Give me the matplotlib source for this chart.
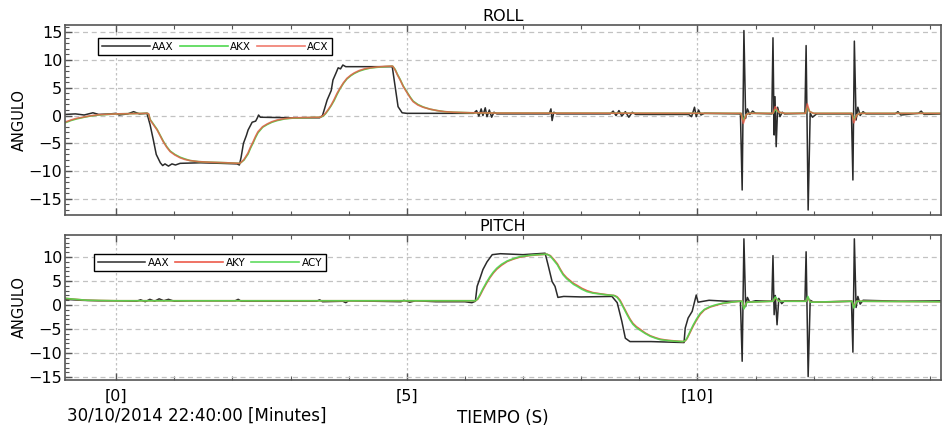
import matplotlib
matplotlib.use("Agg")
import matplotlib.pyplot as plt
from matplotlib.ticker import MultipleLocator, FuncFormatter

# ---------------------------
# ROLL data (time in seconds)
# ---------------------------

roll_aax_t = [-0.88, -0.70, -0.55, -0.40, -0.30, -0.10, 0.00, 0.05, 0.20, 0.30, 0.40, 0.53,
              0.585, 0.64, 0.69, 0.76, 0.80, 0.84, 0.90, 0.96, 1.02, 1.10, 1.45, 1.80, 2.08,
              2.12, 2.15, 2.19, 2.24, 2.27, 2.34, 2.40, 2.43, 2.45, 2.48, 3.00, 3.50,
              3.55, 3.63, 3.70, 3.73, 3.78, 3.82, 3.86, 3.90, 3.95, 4.30, 4.75,
              4.80, 4.85, 4.92, 5.00, 6.15,
              6.20, 6.24, 6.28, 6.31, 6.35, 6.38, 6.42, 6.46, 6.50, 6.55,
              7.45, 7.48, 7.50, 7.53, 7.58,
              8.50, 8.55, 8.60, 8.65, 8.70, 8.76, 8.82, 8.88, 8.94,
              9.85, 9.90, 9.95, 9.98, 10.02, 10.06, 10.12,
              10.74, 10.77, 10.80, 10.83, 10.86, 10.90, 10.95, 11.00,
              11.28, 11.30, 11.32, 11.335, 11.355, 11.38, 11.42, 11.46, 11.50,
              11.85, 11.87, 11.905, 11.94, 11.98, 12.05,
              12.65, 12.675, 12.70, 12.73, 12.76, 12.80, 12.85, 12.90,
              13.40, 13.45, 13.50, 13.80, 13.85, 13.90, 14.20]
roll_aax = [0.2, 0.3, 0.1, 0.5, 0.2, 0.3, 0.4, 0.1, 0.3, 0.7, 0.3, 0.4,
            -1.7, -4.4, -7.0, -8.5, -9.0, -8.7, -9.1, -8.7, -8.9, -8.6, -8.5, -8.6, -8.7,
            -8.9, -7.5, -5.0, -3.6, -2.6, -1.2, -1.0, -0.4, 0.1, -0.3, -0.4, -0.4,
            0.0, 2.8, 4.5, 6.4, 7.6, 8.6, 8.4, 9.1, 8.8, 8.8, 8.8,
            5.2, 1.6, 0.5, 0.4, 0.4,
            0.9, -0.1, 1.2, 0.0, 1.4, -0.2, 1.0, -0.3, 0.6, 0.3,
            0.3, 1.2, -0.9, 0.6, 0.3,
            0.3, 0.8, 0.0, 0.9, -0.1, 0.7, -0.3, 0.6, 0.2,
            0.2, -0.2, 1.5, -0.2, 1.0, 0.1, 0.4,
            0.3, -13.4, 15.3, -0.5, 1.2, 0.2, 0.8, 0.4,
            0.3, 14.0, -3.5, 3.4, -5.6, 1.5, -0.2, 0.6, 0.3,
            0.4, 12.6, -17.0, 0.4, -0.3, 0.3,
            0.3, -11.6, 13.4, -0.8, 1.5, 0.0, 0.7, 0.3,
            0.3, 0.7, 0.1, 0.4, 0.8, 0.2, 0.3]

roll_filt_t = [-0.88, -0.78, -0.68, -0.55, -0.45, -0.30, 0.00, 0.54,
               0.56, 0.585, 0.645, 0.705, 0.76, 0.81, 0.87, 0.93, 1.01, 1.10, 1.18, 1.27,
               1.42, 1.62, 1.90, 2.13,
               2.20, 2.27, 2.31, 2.357, 2.40, 2.44, 2.52, 2.60, 2.68, 2.77, 2.90, 3.05, 3.51,
               3.56, 3.60, 3.65, 3.70, 3.75, 3.80, 3.85, 3.91, 3.97, 4.04, 4.10, 4.18,
               4.27, 4.37, 4.50, 4.62, 4.75,
               4.76, 4.80, 4.84, 4.886, 4.94, 5.006, 5.06, 5.109, 5.19, 5.28, 5.40, 5.52,
               5.65, 5.80, 6.10, 6.50,
               10.75, 10.79, 10.84, 10.90, 11.30, 11.34, 11.40, 11.50,
               11.86, 11.89, 11.93, 12.00, 12.66, 12.69, 12.74, 12.80, 14.20]
roll_akx = [-1.3, -0.9, -0.6, -0.3, -0.1, 0.1, 0.3, 0.4,
            0.2, -0.7, -1.6, -2.5, -3.6, -4.6, -5.6, -6.4, -7.0, -7.5, -7.8, -8.1,
            -8.3, -8.4, -8.5, -8.6,
            -8.0, -6.9, -5.9, -4.9, -3.9, -3.1, -2.1, -1.6, -1.2, -0.9, -0.6, -0.45, -0.3,
            -0.1, 0.3, 1.0, 1.8, 2.7, 3.8, 4.8, 5.8, 6.6, 7.2, 7.6, 8.0,
            8.3, 8.55, 8.7, 8.8, 8.9,
            8.85, 8.3, 7.4, 6.5, 5.3, 4.2, 3.3, 2.6, 2.0, 1.55, 1.15, 0.9,
            0.7, 0.6, 0.5, 0.45,
            0.4, -0.9, 0.2, 0.4, 0.4, 1.1, 0.6, 0.4,
            0.4, 1.6, 0.7, 0.4, 0.4, -0.8, 0.1, 0.4, 0.4]
roll_acx = [-1.2, -0.8, -0.5, -0.25, -0.05, 0.15, 0.3, 0.4,
            0.3, -0.8, -1.7, -2.6, -3.7, -4.7, -5.7, -6.5, -7.1, -7.6, -7.9, -8.1,
            -8.3, -8.4, -8.5, -8.6,
            -7.9, -6.7, -5.7, -4.7, -3.7, -2.9, -2.0, -1.5, -1.1, -0.8, -0.55, -0.4, -0.3,
            0.0, 0.4, 1.1, 1.9, 2.9, 4.0, 4.9, 5.9, 6.7, 7.3, 7.7, 8.1,
            8.4, 8.6, 8.75, 8.85, 8.9,
            8.85, 8.2, 7.3, 6.4, 5.2, 4.1, 3.2, 2.5, 1.9, 1.5, 1.15, 0.9,
            0.7, 0.6, 0.5, 0.45,
            0.4, -1.4, 0.2, 0.4, 0.4, 1.6, 0.6, 0.4,
            0.4, 2.1, 0.7, 0.4, 0.4, -1.3, 0.1, 0.4, 0.4]

# ---------------------------
# PITCH data
# ---------------------------

pitch_aax_t = [-0.88, -0.60, -0.30, 0.00, 0.35, 0.42, 0.50, 0.58, 0.66, 0.74, 0.82, 0.90,
               1.00, 1.30, 2.05, 2.10, 2.15, 2.50, 3.45, 3.50, 3.55, 3.90, 3.95, 4.00,
               4.90, 4.95, 5.05, 5.15, 5.50, 6.00, 6.12, 6.18,
               6.21, 6.26, 6.31, 6.38, 6.47, 6.61, 7.00, 7.38,
               7.43, 7.50, 7.55, 7.60, 7.70, 8.00, 8.53, 8.62, 8.70, 8.76, 8.84, 9.20,
               9.77, 9.79, 9.84, 9.91, 9.98, 10.01, 10.20, 10.50,
               10.74, 10.77, 10.80, 10.83, 10.86, 10.90, 11.00,
               11.28, 11.30, 11.32, 11.34, 11.37, 11.40, 11.45, 11.50,
               11.85, 11.87, 11.905, 11.94, 12.00,
               12.65, 12.675, 12.70, 12.73, 12.76, 12.80, 12.85, 13.50, 14.20]
pitch_aax = [1.2, 1.0, 0.9, 0.9, 0.8, 1.1, 0.7, 1.2, 0.8, 1.3, 0.9, 1.2,
             0.8, 0.9, 0.9, 1.2, 0.8, 0.8, 0.8, 1.1, 0.7, 0.8, 0.5, 0.9,
             0.7, 1.0, 0.6, 0.9, 0.7, 0.7, 0.5, 0.8,
             3.9, 5.6, 7.4, 9.0, 10.5, 10.7, 10.5, 10.8,
             8.4, 4.9, 3.9, 1.6, 1.8, 1.7, 1.8, 0.5, -3.4, -6.9, -7.6, -7.6,
             -7.8, -4.8, -2.7, -1.3, 2.1, 0.6, 1.0, 0.8,
             0.8, -11.7, 13.8, -0.3, 1.6, 0.6, 0.9,
             0.8, 10.3, -2.0, 2.0, -4.1, 1.4, 0.3, 0.9,
             0.9, 11.1, -14.9, 1.0, 0.6,
             0.8, -9.8, 13.8, -0.5, 1.8, 0.2, 1.0, 0.8, 0.9]

pitch_filt_t = [-0.88, -0.70, -0.50, 0.00, 6.18,
                6.22, 6.26, 6.31, 6.37, 6.43, 6.49, 6.55, 6.63, 6.73, 6.84, 6.95, 7.10,
                7.24, 7.41,
                7.47, 7.53, 7.59, 7.64, 7.69, 7.75, 7.81, 7.87, 7.93, 8.01, 8.10, 8.20,
                8.33, 8.45, 8.56,
                8.58, 8.62, 8.67, 8.73, 8.79, 8.84, 8.89, 8.95, 9.01, 9.10, 9.19, 9.28,
                9.36, 9.50, 9.65, 9.75,
                9.79, 9.82, 9.87, 9.93, 9.99, 10.05, 10.12, 10.22, 10.33, 10.44, 10.58, 10.73,
                10.77, 10.80, 10.85, 11.30, 11.34, 11.40, 11.87, 11.90, 11.94,
                12.66, 12.69, 12.74, 14.20]
pitch_aky = [1.4, 1.2, 1.0, 0.9, 0.9,
             1.2, 2.0, 3.2, 4.5, 5.7, 6.7, 7.5, 8.3, 9.1, 9.6, 10.0, 10.3,
             10.45, 10.6,
             10.3, 9.5, 8.6, 7.5, 6.5, 5.7, 5.1, 4.5, 4.1, 3.5, 3.0, 2.6,
             2.35, 2.15, 2.0,
             1.95, 1.7, 1.0, -0.4, -1.8, -2.9, -3.8, -4.5, -5.0, -5.8, -6.4, -6.8,
             -7.1, -7.35, -7.5, -7.6,
             -7.45, -7.0, -5.8, -4.3, -3.0, -1.9, -1.0, -0.4, 0.0, 0.35, 0.6, 0.8,
             0.8, -0.6, 0.6, 0.8, 1.5, 0.8, 0.8, 1.6, 0.6,
             0.8, -0.4, 0.8, 0.7]
pitch_acy = [1.4, 1.2, 1.0, 0.9, 0.9,
             1.3, 2.2, 3.4, 4.7, 5.9, 6.9, 7.7, 8.5, 9.2, 9.7, 10.1, 10.35,
             10.5, 10.6,
             10.2, 9.3, 8.4, 7.3, 6.3, 5.5, 4.9, 4.3, 3.9, 3.3, 2.8, 2.5,
             2.3, 2.1, 2.0,
             1.9, 1.6, 0.8, -0.6, -2.0, -3.1, -4.0, -4.7, -5.2, -5.9, -6.5, -6.9,
             -7.2, -7.4, -7.55, -7.6,
             -7.4, -6.9, -5.6, -4.1, -2.8, -1.7, -0.9, -0.3, 0.1, 0.4, 0.6, 0.8,
             0.8, -0.8, 0.6, 0.8, 1.7, 0.8, 0.8, 1.8, 0.6,
             0.8, -0.6, 0.8, 0.7]

C_AAX = "#2b2b2b"
C_GREEN = "#4fd84f"
C_RED = "#ec5a4a"


def style_axis(ax, ylim):
    ax.set_xlim(-0.88, 14.19)
    ax.set_ylim(*ylim)
    ax.xaxis.set_major_locator(MultipleLocator(5))
    ax.xaxis.set_minor_locator(MultipleLocator(1))
    ax.yaxis.set_major_locator(MultipleLocator(5))
    ax.yaxis.set_minor_locator(MultipleLocator(1))
    ax.tick_params(which="both", direction="in", top=True, colors="#555555",
                   labelcolor="black", labelsize=11.5)
    ax.tick_params(which="major", length=5, width=1)
    ax.tick_params(which="minor", length=3, width=0.8)
    ax.tick_params(axis="y", pad=2)
    ax.grid(axis="y", which="major", color="#c2c2c2", linestyle=(0, (4, 3)), linewidth=0.9)
    ax.grid(axis="x", which="major", color="#c2c2c2", linestyle=(0, (2, 2)), linewidth=0.9)
    for s in ax.spines.values():
        s.set_color("#555555")
        s.set_linewidth(1.2)
    ax.set_ylabel("ANGULO", fontsize=10.5, labelpad=1)


def add_legend(ax, anchor):
    ax.legend(loc="upper left", bbox_to_anchor=anchor, borderaxespad=0, ncol=3,
              fontsize=7.5, handlelength=4.6, handletextpad=0.2, columnspacing=0.6,
              borderpad=0.35, fancybox=False, framealpha=1, edgecolor="black")


fig = plt.figure(figsize=(9.42, 4.26), dpi=100)

ax1 = fig.add_axes([0.0690, 0.4953, 0.9299, 0.4460])
ax2 = fig.add_axes([0.0690, 0.1080, 0.9299, 0.3404])

# ROLL
ax1.plot(roll_aax_t, roll_aax, color=C_AAX, lw=1.1, label="AAX")
ax1.plot(roll_filt_t, roll_akx, color=C_GREEN, lw=1.2, label="AKX")
ax1.plot(roll_filt_t, roll_acx, color=C_RED, lw=1.2, alpha=0.8, label="ACX")
style_axis(ax1, (-17.9, 16.3))
ax1.tick_params(axis="x", labelbottom=False)
ax1.set_title("ROLL", fontsize=11.5, pad=3)
add_legend(ax1, (0.038, 0.932))

# PITCH
ax2.plot(pitch_aax_t, pitch_aax, color=C_AAX, lw=1.1, label="AAX")
ax2.plot(pitch_filt_t, pitch_aky, color=C_RED, lw=1.2, label="AKY")
ax2.plot(pitch_filt_t, pitch_acy, color=C_GREEN, lw=1.2, alpha=0.9, label="ACY")
style_axis(ax2, (-15.6, 14.6))
ax2.xaxis.set_major_formatter(FuncFormatter(lambda v, p: "[%d]" % round(v)))
ax2.tick_params(axis="x", pad=6, labelsize=11.5)
ax2.set_title("PITCH", fontsize=11.5, pad=3)
ax2.set_xlabel("TIEMPO (S)", fontsize=12, labelpad=4)
add_legend(ax2, (0.033, 0.869))

fig.text(67 / 942, 1 - 416 / 426, "30/10/2014 22:40:00 [Minutes]", fontsize=12,
         ha="left", va="center")

plt.savefig("out.png", dpi=100)
